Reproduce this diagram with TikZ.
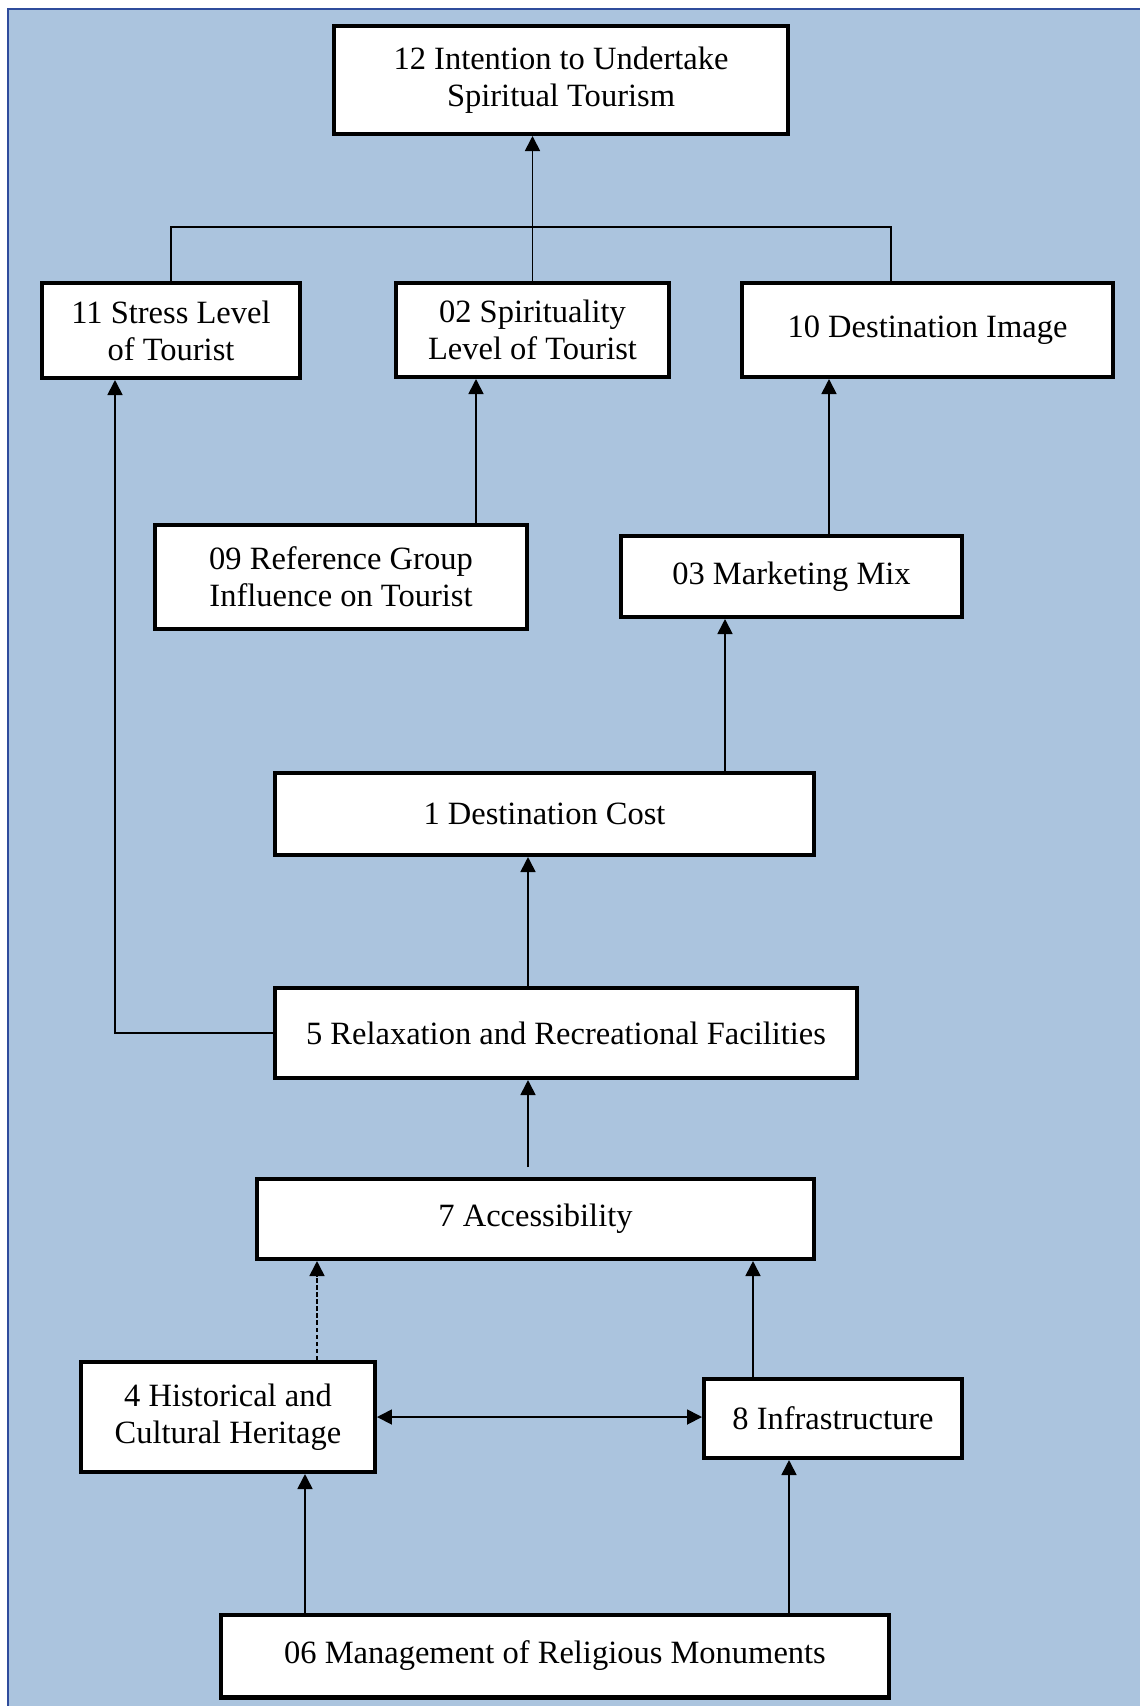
\documentclass[tikz,border=0pt]{standalone}
\usepackage{fontspec}
\setmainfont{Liberation Serif}
\usetikzlibrary{arrows.meta,calc}
\definecolor{panel}{HTML}{ABC4DE}
\definecolor{frameblue}{HTML}{2F4C9C}
\begin{document}
\begin{tikzpicture}[x=0.02cm,y=-0.02cm,
    >={Triangle[length=0.3cm,width=0.3cm]},
    box/.style={draw,line width=2.3pt,fill=white,align=center,inner sep=0pt,font=\fontsize{18.5}{21}\selectfont},
    link/.style={line width=1pt,->}]
  \useasboundingbox (0,0) rectangle (1140,1706);
  \fill[panel] (8,9) rectangle (1140,1706);
  \draw[frameblue,line width=1.6pt] (8,1706) -- (8,9) -- (1140,9);
  \node[box,minimum width=9.08cm,minimum height=2.16cm] (n12) at (561,80) {12 Intention to Undertake\\Spiritual Tourism};
  \node[box,minimum width=5.16cm,minimum height=1.9cm] (n11) at (171,330.5) {11 Stress Level\\of Tourist};
  \node[box,minimum width=5.46cm,minimum height=1.88cm] (n02) at (532.5,330) {02 Spirituality\\Level of Tourist};
  \node[box,minimum width=7.42cm,minimum height=1.88cm] (n10) at (927.5,330) {10 Destination Image};
  \node[box,minimum width=7.44cm,minimum height=2.08cm] (n09) at (341,577) {09 Reference Group\\Influence on Tourist};
  \node[box,minimum width=6.82cm,minimum height=1.62cm] (n03) at (791.5,576.5) {03 Marketing Mix};
  \node[box,minimum width=10.78cm,minimum height=1.64cm] (n1) at (544.5,814) {1 Destination Cost};
  \node[box,minimum width=11.64cm,minimum height=1.8cm] (n5) at (566,1033) {5 Relaxation and Recreational Facilities};
  \node[box,minimum width=11.14cm,minimum height=1.6cm] (n7) at (535.5,1219) {7 Accessibility};
  \node[box,minimum width=5.88cm,minimum height=2.2cm] (n4) at (228,1417) {4 Historical and\\Cultural Heritage};
  \node[box,minimum width=5.16cm,minimum height=1.58cm] (n8) at (833,1418.5) {8 Infrastructure};
  \node[box,minimum width=13.36cm,minimum height=1.66cm] (n06) at (555,1656) {06 Management of Religious Monuments};
  \coordinate (bus) at (891,227);
  \coordinate (a09) at ($(n09.north)+(135,0)$);
  \coordinate (a03) at ($(n03.north)+(37.5,0)$);
  \coordinate (a1) at ($(n1.north)+(180.5,0)$);
  \coordinate (a5) at ($(n5.north)+(-38,0)$);
  \coordinate (a11) at ($(n11.south)+(-56,0)$);
  \coordinate (a7) at ($(n7.north)+(-7.5,-10)$);
  \coordinate (a4) at ($(n4.north)+(89,0)$);
  \coordinate (a8) at ($(n8.north)+(-80,0)$);
  \coordinate (b4) at ($(n06.north)+(-250,0)$);
  \coordinate (b8) at ($(n06.north)+(234,0)$);
  \draw[line width=1pt] (n11.north) |- (bus) -- (bus |- n10.north);
  \draw[link] (n02.north) -- (n12.south -| n02.north);
  \draw[link] (a09) -- (a09 |- n02.south);
  \draw[link] (a03) -- (a03 |- n10.south);
  \draw[link] (a1) -- (a1 |- n03.south);
  \draw[link] (a5) -- (a5 |- n1.south);
  \draw[link] (n5.west) -| (a11);
  \draw[link] (a7) -- (a7 |- n5.south);
  \draw[link,dash pattern=on 2.5pt off 1.5pt] (a4) -- (a4 |- n7.south);
  \draw[link] (a8) -- (a8 |- n7.south);
  \draw[link,<->] (n4.east) -- (n4.east -| n8.west);
  \draw[link] (b4) -- (b4 |- n4.south);
  \draw[link] (b8) -- (b8 |- n8.south);
\end{tikzpicture}
\end{document}
